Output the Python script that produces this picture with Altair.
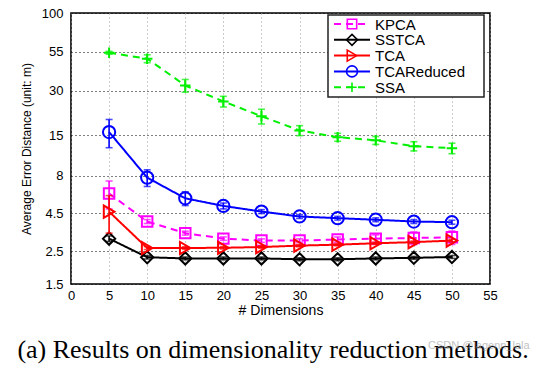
import altair as alt
import pandas as pd

dims = [5, 10, 15, 20, 25, 30, 35, 40, 45, 50]
methods = ["KPCA", "SSTCA", "TCA", "TCAReduced", "SSA"]

kpca = [6.1, 3.95, 3.3, 3.03, 2.94, 2.94, 2.99, 3.03, 3.06, 3.09]
kpca_err = [1.3, 0.12, 0.1, 0.08, 0.08, 0.08, 0.12, 0.18, 0.3, 0.32]
sstca = [3.03, 2.27, 2.23, 2.23, 2.23, 2.2, 2.2, 2.23, 2.25, 2.28]
sstca_err = [0.13, 0.06, 0.05, 0.05, 0.05, 0.05, 0.05, 0.05, 0.05, 0.05]
tca = [4.6, 2.62, 2.62, 2.63, 2.66, 2.72, 2.76, 2.82, 2.87, 2.94]
tca_err = [1.3, 0.06, 0.05, 0.05, 0.05, 0.05, 0.05, 0.05, 0.05, 0.06]
tcared = [15.8, 7.8, 5.66, 5.03, 4.61, 4.27, 4.16, 4.06, 3.95, 3.91]
tcared_err = [3.4, 1.0, 0.6, 0.23, 0.14, 0.13, 0.12, 0.12, 0.12, 0.12]
ssa = [54.0, 49.3, 32.5, 25.4, 20.2, 16.2, 14.6, 13.9, 12.7, 12.3]
ssa_err = [1.2, 3.0, 3.2, 2.1, 2.3, 1.25, 0.9, 0.85, 0.9, 1.0]

y_ticks = [1.5, 2.5, 4.5, 8, 15, 30, 55, 100]
x_ticks = [0, 5, 10, 15, 20, 25, 30, 35, 40, 45, 50, 55]

values = {"KPCA": kpca, "SSTCA": sstca, "TCA": tca, "TCAReduced": tcared, "SSA": ssa}
errors = {"KPCA": kpca_err, "SSTCA": sstca_err, "TCA": tca_err, "TCAReduced": tcared_err, "SSA": ssa_err}

style = {
    "KPCA": dict(color="#FF00FF", dash=[7, 5], shape="square", size=110),
    "SSTCA": dict(color="#000000", dash=[1, 0], shape="diamond", size=150),
    "TCA": dict(color="#FF0000", dash=[1, 0], shape="triangle-right", size=150),
    "TCAReduced": dict(color="#0000FF", dash=[1, 0], shape="circle", size=150),
    "SSA": dict(color="#00F000", dash=[7, 5], shape="M-1,0H1M0,-1V1", size=110),
}

FONT = "Liberation Sans"

xenc = alt.X("dim:Q", scale=alt.Scale(domain=[0, 55], nice=False),
             axis=alt.Axis(values=x_ticks, title="# Dimensions", grid=True,
                           gridColor="#999999", gridDash=[1, 3], gridWidth=1,
                           tickSize=0, labelPadding=5, titlePadding=1,
                           domain=False, labelFlush=False))
yscale = alt.Scale(type="log", domain=[1.5, 100], nice=False)
yaxis = alt.Axis(values=y_ticks, format="~g", title="Average Error Distance (unit: m)",
                 grid=True, gridColor="#000000", gridDash=[1, 3], gridWidth=1,
                 tickSize=0, labelPadding=8, titlePadding=8, domain=False,
                 labelFlush=False, titleFontSize=12)

layers = []
for m in methods:
    st = style[m]
    rows = []
    for d, v, e in zip(dims, values[m], errors[m]):
        rows.append({"dim": d, "value": v, "lo": v - e, "hi": v + e})
    sub = pd.DataFrame(rows)
    base = alt.Chart(sub)
    layers.append(
        base.mark_errorbar(ticks=alt.MarkConfig(size=7), thickness=1.6, color=st["color"]).encode(
            x=xenc, y=alt.Y("lo:Q", scale=yscale, axis=yaxis), y2="hi:Q")
    )
    layers.append(
        base.mark_line(color=st["color"], strokeDash=st["dash"], strokeWidth=2).encode(
            x=xenc, y=alt.Y("value:Q", scale=yscale, axis=yaxis))
    )
    layers.append(
        base.mark_point(shape=st["shape"], size=st["size"], filled=False, color=st["color"],
                        strokeWidth=2, opacity=1).encode(
            x=xenc, y=alt.Y("value:Q", scale=yscale, axis=yaxis))
    )

# legend box (plot-area pixel coordinates)
one = pd.DataFrame({"k": [0]})
lx0, lx1, ly0, ly1 = 257, 413, 2, 84
layers.append(alt.Chart(one).mark_rect(fill="white", stroke="#222222", strokeWidth=1.5).encode(
    x=alt.value(lx0), x2=alt.value(lx1), y=alt.value(ly0), y2=alt.value(ly1)))
for i, m in enumerate(methods):
    st = style[m]
    yy = 11 + i * 15.8
    layers.append(alt.Chart(one).mark_rule(color=st["color"], strokeDash=st["dash"], strokeWidth=2).encode(
        x=alt.value(263), x2=alt.value(299), y=alt.value(yy)))
    layers.append(alt.Chart(one).mark_point(shape=st["shape"], size=st["size"] * 0.8, filled=False,
                                            color=st["color"], strokeWidth=1.6, opacity=1).encode(
        x=alt.value(281), y=alt.value(yy)))
    layers.append(alt.Chart(one).mark_text(text=m, align="left", baseline="middle", font=FONT,
                                           fontSize=15, color="black").encode(
        x=alt.value(304), y=alt.value(yy + 0.5)))

# caption below the figure
layers.append(alt.Chart(one).mark_text(text="(a) Results on dimensionality reduction methods.",
                                       align="center", baseline="alphabetic", font="Liberation Serif",
                                       fontSize=26, color="black").encode(
    x=alt.value(202), y=alt.value(345)))
layers.append(alt.Chart(one).mark_text(text="CSDN @lagenn_lala", align="left", baseline="middle",
                                       font=FONT, fontSize=11, color="#9a9a9a", opacity=0.6).encode(
    x=alt.value(357), y=alt.value(333)))

chart = alt.layer(*layers).properties(
    width=419, height=271,
    autosize=alt.AutoSizeParams(type="none"),
    padding={"left": 63, "top": 5, "right": 46, "bottom": 82},
).configure(background="white").configure_view(
    stroke="#000000", strokeWidth=1.6
).configure_axis(
    labelFont=FONT, titleFont=FONT, labelFontSize=13, titleFontSize=14,
    labelColor="black", titleColor="black", titleFontWeight="normal",
)

chart.save("out.html", embed_options={"renderer": "svg", "actions": False})
